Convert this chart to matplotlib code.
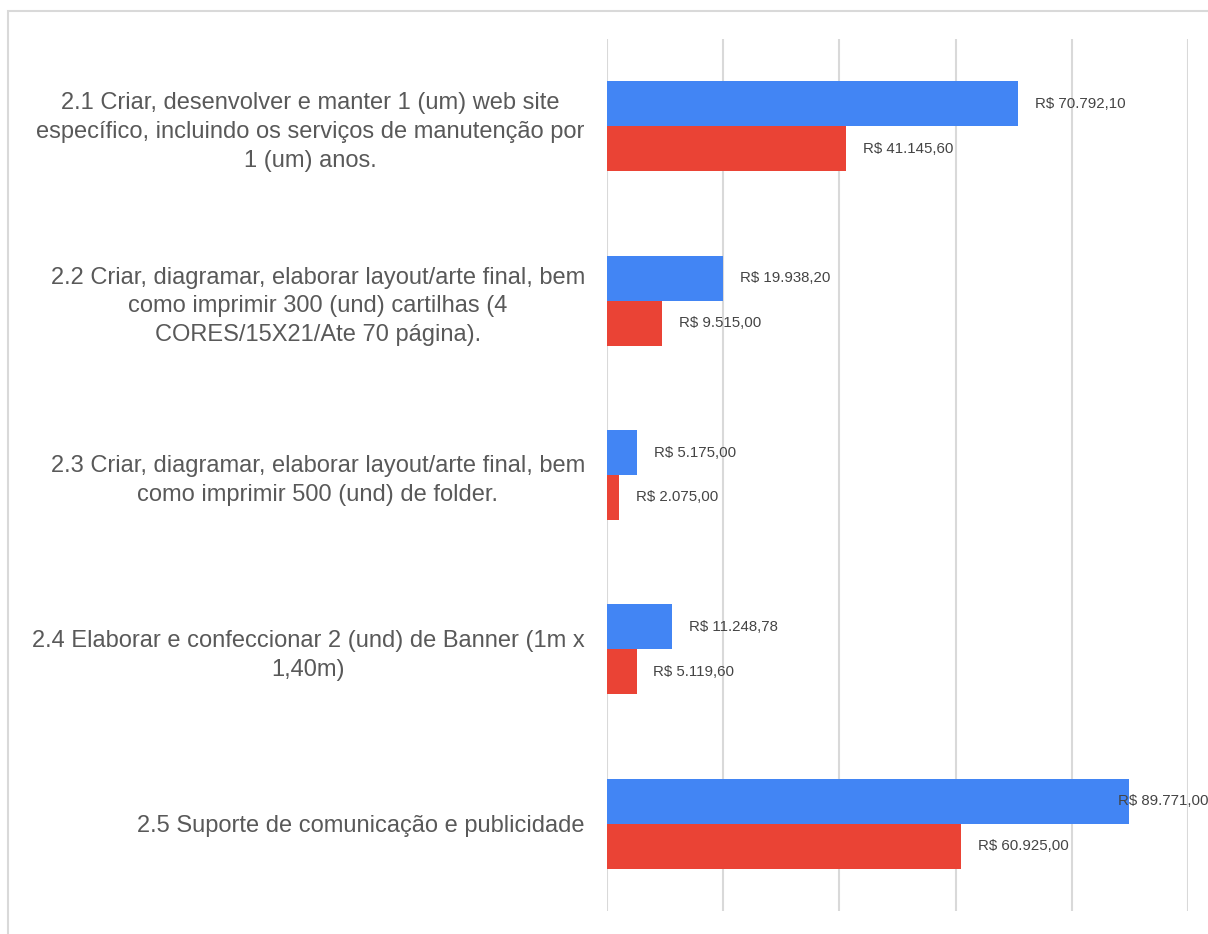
import numpy as np
import matplotlib
matplotlib.use('Agg')
from matplotlib import pyplot as plt
from matplotlib.patches import Rectangle

categories = [
    "2.1 Criar, desenvolver e manter 1 (um) web site\nespecífico, incluindo os serviços de manutenção por\n1 (um) anos.",
    "2.2 Criar, diagramar, elaborar layout/arte final, bem\ncomo imprimir 300 (und) cartilhas (4\nCORES/15X21/Ate 70 página).",
    "2.3 Criar, diagramar, elaborar layout/arte final, bem\ncomo imprimir 500 (und) de folder.",
    "2.4 Elaborar e confeccionar 2 (und) de Banner (1m x\n1,40m)",
    "2.5 Suporte de comunicação e publicidade",
]
serie_azul = [70792.10, 19938.20, 5175.00, 11248.78, 89771.00]
serie_vermelha = [41145.60, 9515.00, 2075.00, 5119.60, 60925.00]
grid_ticks = [0, 20000, 40000, 60000, 80000, 100000]


def brl(v):
    s = f"{v:,.2f}".replace(",", "X").replace(".", ",").replace("X", ".")
    return "R$ " + s


plt.rcParams['font.family'] = ['Liberation Sans', 'DejaVu Sans']

fig = plt.figure(figsize=(12.08, 9.34), dpi=100)
ax = fig.add_axes([607 / 1208, 1 - 911 / 934, 581 / 1208, 872 / 934])

# moldura cinza
fig.patches.append(Rectangle((8 / 1208, -0.1), 1.2, 1 - 11 / 934 + 0.1,
                             transform=fig.transFigure, fill=False,
                             edgecolor='#d9d9d9', linewidth=1.5))

y = np.arange(len(categories))
h = 0.258
b1 = ax.barh(y - h / 2, serie_azul, height=h, color='#4285F4', zorder=3)
b2 = ax.barh(y + h / 2, serie_vermelha, height=h, color='#EA4335', zorder=3)

fig.canvas.draw()
renderer = fig.canvas.get_renderer()
for bars, vals in ((b1, serie_azul), (b2, serie_vermelha)):
    for bar, v in zip(bars, vals):
        yc = bar.get_y() + bar.get_height() / 2
        t = ax.annotate(brl(v), (v, yc), xytext=(12, 0),
                        textcoords='offset points', va='center', ha='left',
                        fontsize=10.8, color='#444444', zorder=5,
                        annotation_clip=False)
        # se o rótulo passa da borda da figura, encosta na borda
        bb = t.get_window_extent(renderer)
        if bb.x1 > fig.bbox.width:
            t.remove()
            ax.annotate(brl(v), (1.0, yc), xycoords=('figure fraction', 'data'),
                        va='center', ha='right', fontsize=10.8,
                        color='#444444', zorder=5, annotation_clip=False)

ax.set_xlim(0, 100000)
ax.set_ylim(len(categories) - 0.5, -0.5)
ax.set_xticks(grid_ticks)
ax.set_xticklabels([])
ax.tick_params(axis='x', length=0)
ax.grid(axis='x', color='#d9d9d9', linewidth=1.5, zorder=0)
ax.set_yticks(y)
ax.set_yticklabels(categories, fontsize=17, color='#595959',
                   multialignment='center', linespacing=1.4)
ax.tick_params(axis='y', length=0, pad=16)
for s in ax.spines.values():
    s.set_visible(False)

plt.savefig('out.png', dpi=100)
